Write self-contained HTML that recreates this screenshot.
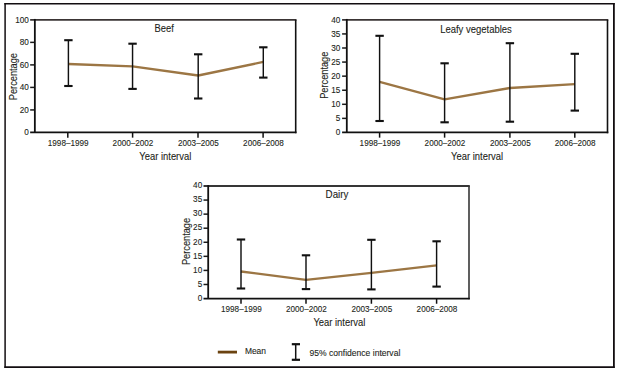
<!DOCTYPE html>
<html><head><meta charset="utf-8"><style>
html,body{margin:0;padding:0;background:#fff;}
svg{display:block;}
text{font-family:"Liberation Sans",sans-serif;fill:#231f20;stroke:#231f20;stroke-width:0.1px;}
</style></head><body>
<svg width="618" height="372" viewBox="0 0 618 372">
<rect width="618" height="372" fill="#fff"/>
<line x1="4.4" y1="3.75" x2="614.6" y2="3.75" stroke="#120d10" stroke-width="1.4"/>
<line x1="5.1" y1="3.0" x2="5.1" y2="368.0" stroke="#120d10" stroke-width="1.5"/>
<line x1="613.9" y1="3.0" x2="613.9" y2="368.0" stroke="#120d10" stroke-width="1.8"/>
<line x1="4.4" y1="367.1" x2="614.6" y2="367.1" stroke="#120d10" stroke-width="1.8"/>
<text x="28.9" y="135.4" font-size="8.2" text-anchor="end">0</text>
<line x1="30.150000000000002" y1="109.92999999999999" x2="34.85" y2="109.92999999999999" stroke="#1a1a1a" stroke-width="1.5"/>
<text x="28.9" y="112.88" font-size="8.2" text-anchor="end">20</text>
<line x1="30.150000000000002" y1="87.41" x2="34.85" y2="87.41" stroke="#1a1a1a" stroke-width="1.5"/>
<text x="28.9" y="90.36" font-size="8.2" text-anchor="end">40</text>
<line x1="30.150000000000002" y1="64.89" x2="34.85" y2="64.89" stroke="#1a1a1a" stroke-width="1.5"/>
<text x="28.9" y="67.84" font-size="8.2" text-anchor="end">60</text>
<line x1="30.150000000000002" y1="42.36999999999999" x2="34.85" y2="42.36999999999999" stroke="#1a1a1a" stroke-width="1.5"/>
<text x="28.9" y="45.32" font-size="8.2" text-anchor="end">80</text>
<text x="28.9" y="22.8" font-size="8.2" text-anchor="end">100</text>
<line x1="67.8" y1="132.45" x2="67.8" y2="137.64999999999998" stroke="#111" stroke-width="1.5"/>
<line x1="132.6" y1="132.45" x2="132.6" y2="137.64999999999998" stroke="#111" stroke-width="1.5"/>
<line x1="198.0" y1="132.45" x2="198.0" y2="137.64999999999998" stroke="#111" stroke-width="1.5"/>
<line x1="263.1" y1="132.45" x2="263.1" y2="137.64999999999998" stroke="#111" stroke-width="1.5"/>
<line x1="30.150000000000002" y1="19.85" x2="296.5" y2="19.85" stroke="#3a3434" stroke-width="1.9"/>
<line x1="295.7" y1="19.85" x2="295.7" y2="133.25" stroke="#111" stroke-width="1.6"/>
<line x1="34.85" y1="18.950000000000003" x2="34.85" y2="132.45" stroke="#111" stroke-width="1.8"/>
<line x1="30.150000000000002" y1="132.45" x2="296.5" y2="132.45" stroke="#111" stroke-width="1.8"/>
<text x="68.2" y="146.2" font-size="8.6" text-anchor="middle" textLength="40.8" lengthAdjust="spacingAndGlyphs">1998–1999</text>
<text x="133.0" y="146.2" font-size="8.6" text-anchor="middle" textLength="40.8" lengthAdjust="spacingAndGlyphs">2000–2002</text>
<text x="198.4" y="146.2" font-size="8.6" text-anchor="middle" textLength="40.8" lengthAdjust="spacingAndGlyphs">2003–2005</text>
<text x="263.5" y="146.2" font-size="8.6" text-anchor="middle" textLength="40.8" lengthAdjust="spacingAndGlyphs">2006–2008</text>
<polyline points="68.4,64.0 132.55,66.3 198.2,75.5 263.3,61.9" fill="none" stroke="#9c7644" stroke-width="2.35" stroke-linejoin="round"/>
<line x1="68.4" y1="40.2" x2="68.4" y2="86.0" stroke="#111" stroke-width="1.45"/>
<line x1="64.2" y1="40.2" x2="72.60000000000001" y2="40.2" stroke="#111" stroke-width="2.1"/>
<line x1="64.2" y1="86.0" x2="72.60000000000001" y2="86.0" stroke="#111" stroke-width="2.1"/>
<line x1="132.55" y1="43.7" x2="132.55" y2="88.9" stroke="#111" stroke-width="1.45"/>
<line x1="128.35000000000002" y1="43.7" x2="136.75" y2="43.7" stroke="#111" stroke-width="2.1"/>
<line x1="128.35000000000002" y1="88.9" x2="136.75" y2="88.9" stroke="#111" stroke-width="2.1"/>
<line x1="198.2" y1="54.3" x2="198.2" y2="98.5" stroke="#111" stroke-width="1.45"/>
<line x1="194.0" y1="54.3" x2="202.39999999999998" y2="54.3" stroke="#111" stroke-width="2.1"/>
<line x1="194.0" y1="98.5" x2="202.39999999999998" y2="98.5" stroke="#111" stroke-width="2.1"/>
<line x1="263.3" y1="47.3" x2="263.3" y2="77.6" stroke="#111" stroke-width="1.45"/>
<line x1="259.1" y1="47.3" x2="267.5" y2="47.3" stroke="#111" stroke-width="2.1"/>
<line x1="259.1" y1="77.6" x2="267.5" y2="77.6" stroke="#111" stroke-width="2.1"/>
<text x="164.2" y="31.7" font-size="10.2" text-anchor="middle" textLength="19.3" lengthAdjust="spacingAndGlyphs">Beef</text>
<text x="165.3" y="159.6" font-size="10.2" text-anchor="middle" textLength="52.0" lengthAdjust="spacingAndGlyphs">Year interval</text>
<text x="0" y="0" font-size="10" text-anchor="middle" textLength="47.2" lengthAdjust="spacingAndGlyphs" transform="translate(16.6,76.6) rotate(-90)">Percentage</text>
<text x="340.3" y="135.4" font-size="8.2" text-anchor="end">0</text>
<line x1="342.1" y1="118.37499999999999" x2="346.8" y2="118.37499999999999" stroke="#1a1a1a" stroke-width="1.5"/>
<text x="340.3" y="121.32" font-size="8.2" text-anchor="end">5</text>
<line x1="342.1" y1="104.29999999999998" x2="346.8" y2="104.29999999999998" stroke="#1a1a1a" stroke-width="1.5"/>
<text x="340.3" y="107.25" font-size="8.2" text-anchor="end">10</text>
<line x1="342.1" y1="90.225" x2="346.8" y2="90.225" stroke="#1a1a1a" stroke-width="1.5"/>
<text x="340.3" y="93.17" font-size="8.2" text-anchor="end">15</text>
<line x1="342.1" y1="76.14999999999999" x2="346.8" y2="76.14999999999999" stroke="#1a1a1a" stroke-width="1.5"/>
<text x="340.3" y="79.1" font-size="8.2" text-anchor="end">20</text>
<line x1="342.1" y1="62.07499999999999" x2="346.8" y2="62.07499999999999" stroke="#1a1a1a" stroke-width="1.5"/>
<text x="340.3" y="65.02" font-size="8.2" text-anchor="end">25</text>
<line x1="342.1" y1="48.0" x2="346.8" y2="48.0" stroke="#1a1a1a" stroke-width="1.5"/>
<text x="340.3" y="50.95" font-size="8.2" text-anchor="end">30</text>
<line x1="342.1" y1="33.925" x2="346.8" y2="33.925" stroke="#1a1a1a" stroke-width="1.5"/>
<text x="340.3" y="36.88" font-size="8.2" text-anchor="end">35</text>
<text x="340.3" y="22.8" font-size="8.2" text-anchor="end">40</text>
<line x1="379.6" y1="132.45" x2="379.6" y2="137.64999999999998" stroke="#111" stroke-width="1.5"/>
<line x1="444.6" y1="132.45" x2="444.6" y2="137.64999999999998" stroke="#111" stroke-width="1.5"/>
<line x1="509.9" y1="132.45" x2="509.9" y2="137.64999999999998" stroke="#111" stroke-width="1.5"/>
<line x1="574.8" y1="132.45" x2="574.8" y2="137.64999999999998" stroke="#111" stroke-width="1.5"/>
<line x1="342.1" y1="19.85" x2="608.3" y2="19.85" stroke="#3a3434" stroke-width="1.9"/>
<line x1="607.5" y1="19.85" x2="607.5" y2="133.25" stroke="#111" stroke-width="1.6"/>
<line x1="346.8" y1="18.950000000000003" x2="346.8" y2="132.45" stroke="#111" stroke-width="1.8"/>
<line x1="342.1" y1="132.45" x2="608.3" y2="132.45" stroke="#111" stroke-width="1.8"/>
<text x="380.0" y="146.2" font-size="8.6" text-anchor="middle" textLength="40.8" lengthAdjust="spacingAndGlyphs">1998–1999</text>
<text x="445.0" y="146.2" font-size="8.6" text-anchor="middle" textLength="40.8" lengthAdjust="spacingAndGlyphs">2000–2002</text>
<text x="510.3" y="146.2" font-size="8.6" text-anchor="middle" textLength="40.8" lengthAdjust="spacingAndGlyphs">2003–2005</text>
<text x="575.2" y="146.2" font-size="8.6" text-anchor="middle" textLength="40.8" lengthAdjust="spacingAndGlyphs">2006–2008</text>
<polyline points="379.6,81.9 444.6,99.4 509.9,88.0 574.8,84.2" fill="none" stroke="#9c7644" stroke-width="2.35" stroke-linejoin="round"/>
<line x1="379.6" y1="35.8" x2="379.6" y2="121.0" stroke="#111" stroke-width="1.45"/>
<line x1="375.40000000000003" y1="35.8" x2="383.8" y2="35.8" stroke="#111" stroke-width="2.1"/>
<line x1="375.40000000000003" y1="121.0" x2="383.8" y2="121.0" stroke="#111" stroke-width="2.1"/>
<line x1="444.6" y1="63.3" x2="444.6" y2="122.3" stroke="#111" stroke-width="1.45"/>
<line x1="440.40000000000003" y1="63.3" x2="448.8" y2="63.3" stroke="#111" stroke-width="2.1"/>
<line x1="440.40000000000003" y1="122.3" x2="448.8" y2="122.3" stroke="#111" stroke-width="2.1"/>
<line x1="509.9" y1="43.2" x2="509.9" y2="121.7" stroke="#111" stroke-width="1.45"/>
<line x1="505.7" y1="43.2" x2="514.1" y2="43.2" stroke="#111" stroke-width="2.1"/>
<line x1="505.7" y1="121.7" x2="514.1" y2="121.7" stroke="#111" stroke-width="2.1"/>
<line x1="574.8" y1="53.8" x2="574.8" y2="110.6" stroke="#111" stroke-width="1.45"/>
<line x1="570.5999999999999" y1="53.8" x2="579.0" y2="53.8" stroke="#111" stroke-width="2.1"/>
<line x1="570.5999999999999" y1="110.6" x2="579.0" y2="110.6" stroke="#111" stroke-width="2.1"/>
<text x="476.0" y="32.6" font-size="10.2" text-anchor="middle" textLength="71.6" lengthAdjust="spacingAndGlyphs">Leafy vegetables</text>
<text x="477.1" y="159.8" font-size="10.2" text-anchor="middle" textLength="52.0" lengthAdjust="spacingAndGlyphs">Year interval</text>
<text x="0" y="0" font-size="10" text-anchor="middle" textLength="47.2" lengthAdjust="spacingAndGlyphs" transform="translate(327.9,75.25) rotate(-90)">Percentage</text>
<text x="202.2" y="300.8" font-size="8.2" text-anchor="end">0</text>
<line x1="203.5" y1="284.48125" x2="208.2" y2="284.48125" stroke="#1a1a1a" stroke-width="1.5"/>
<text x="202.2" y="286.73" font-size="8.2" text-anchor="end">5</text>
<line x1="203.5" y1="270.4125" x2="208.2" y2="270.4125" stroke="#1a1a1a" stroke-width="1.5"/>
<text x="202.2" y="272.66" font-size="8.2" text-anchor="end">10</text>
<line x1="203.5" y1="256.34375" x2="208.2" y2="256.34375" stroke="#1a1a1a" stroke-width="1.5"/>
<text x="202.2" y="258.59" font-size="8.2" text-anchor="end">15</text>
<line x1="203.5" y1="242.275" x2="208.2" y2="242.275" stroke="#1a1a1a" stroke-width="1.5"/>
<text x="202.2" y="244.53" font-size="8.2" text-anchor="end">20</text>
<line x1="203.5" y1="228.20625" x2="208.2" y2="228.20625" stroke="#1a1a1a" stroke-width="1.5"/>
<text x="202.2" y="230.46" font-size="8.2" text-anchor="end">25</text>
<line x1="203.5" y1="214.1375" x2="208.2" y2="214.1375" stroke="#1a1a1a" stroke-width="1.5"/>
<text x="202.2" y="216.39" font-size="8.2" text-anchor="end">30</text>
<line x1="203.5" y1="200.06875" x2="208.2" y2="200.06875" stroke="#1a1a1a" stroke-width="1.5"/>
<text x="202.2" y="202.32" font-size="8.2" text-anchor="end">35</text>
<text x="202.2" y="188.25" font-size="8.2" text-anchor="end">40</text>
<line x1="241.0" y1="298.55" x2="241.0" y2="303.75" stroke="#111" stroke-width="1.5"/>
<line x1="306.0" y1="298.55" x2="306.0" y2="303.75" stroke="#111" stroke-width="1.5"/>
<line x1="371.4" y1="298.55" x2="371.4" y2="303.75" stroke="#111" stroke-width="1.5"/>
<line x1="436.6" y1="298.55" x2="436.6" y2="303.75" stroke="#111" stroke-width="1.5"/>
<line x1="203.5" y1="186.0" x2="469.8" y2="186.0" stroke="#363636" stroke-width="1.9"/>
<line x1="469.0" y1="186.0" x2="469.0" y2="299.35" stroke="#363636" stroke-width="1.6"/>
<line x1="208.2" y1="185.1" x2="208.2" y2="298.55" stroke="#111" stroke-width="1.8"/>
<line x1="203.5" y1="298.55" x2="469.8" y2="298.55" stroke="#111" stroke-width="1.8"/>
<text x="241.4" y="311.9" font-size="8.6" text-anchor="middle" textLength="40.8" lengthAdjust="spacingAndGlyphs">1998–1999</text>
<text x="306.4" y="311.9" font-size="8.6" text-anchor="middle" textLength="40.8" lengthAdjust="spacingAndGlyphs">2000–2002</text>
<text x="371.8" y="311.9" font-size="8.6" text-anchor="middle" textLength="40.8" lengthAdjust="spacingAndGlyphs">2003–2005</text>
<text x="437.0" y="311.9" font-size="8.6" text-anchor="middle" textLength="40.8" lengthAdjust="spacingAndGlyphs">2006–2008</text>
<polyline points="241.0,271.5 306.0,279.8 371.4,272.8 436.6,265.3" fill="none" stroke="#9c7644" stroke-width="2.35" stroke-linejoin="round"/>
<line x1="241.0" y1="239.5" x2="241.0" y2="288.5" stroke="#111" stroke-width="1.45"/>
<line x1="236.8" y1="239.5" x2="245.2" y2="239.5" stroke="#111" stroke-width="2.1"/>
<line x1="236.8" y1="288.5" x2="245.2" y2="288.5" stroke="#111" stroke-width="2.1"/>
<line x1="306.0" y1="255.3" x2="306.0" y2="289.1" stroke="#111" stroke-width="1.45"/>
<line x1="301.8" y1="255.3" x2="310.2" y2="255.3" stroke="#111" stroke-width="2.1"/>
<line x1="301.8" y1="289.1" x2="310.2" y2="289.1" stroke="#111" stroke-width="2.1"/>
<line x1="371.4" y1="239.8" x2="371.4" y2="289.4" stroke="#111" stroke-width="1.45"/>
<line x1="367.2" y1="239.8" x2="375.59999999999997" y2="239.8" stroke="#111" stroke-width="2.1"/>
<line x1="367.2" y1="289.4" x2="375.59999999999997" y2="289.4" stroke="#111" stroke-width="2.1"/>
<line x1="436.6" y1="241.3" x2="436.6" y2="286.6" stroke="#111" stroke-width="1.45"/>
<line x1="432.40000000000003" y1="241.3" x2="440.8" y2="241.3" stroke="#111" stroke-width="2.1"/>
<line x1="432.40000000000003" y1="286.6" x2="440.8" y2="286.6" stroke="#111" stroke-width="2.1"/>
<text x="337.0" y="197.6" font-size="10.2" text-anchor="middle" textLength="22.8" lengthAdjust="spacingAndGlyphs">Dairy</text>
<text x="339.4" y="325.8" font-size="10.2" text-anchor="middle" textLength="52.0" lengthAdjust="spacingAndGlyphs">Year interval</text>
<text x="0" y="0" font-size="10" text-anchor="middle" textLength="47.2" lengthAdjust="spacingAndGlyphs" transform="translate(190.1,241.5) rotate(-90)">Percentage</text>
<line x1="217.8" y1="352.1" x2="237.0" y2="352.1" stroke="#6b4310" stroke-width="2.8"/>
<line x1="295.7" y1="344.2" x2="295.7" y2="359.8" stroke="#111" stroke-width="1.5"/>
<line x1="291.8" y1="344.2" x2="300.0" y2="344.2" stroke="#111" stroke-width="2.2"/>
<line x1="291.8" y1="359.8" x2="300.0" y2="359.8" stroke="#111" stroke-width="2.2"/>
<text x="244.9" y="353.6" font-size="9.0" text-anchor="start" textLength="21.1" lengthAdjust="spacingAndGlyphs">Mean</text>
<text x="309.5" y="355.9" font-size="9.0" text-anchor="start" textLength="90.8" lengthAdjust="spacingAndGlyphs">95% confidence interval</text>
</svg></body></html>
